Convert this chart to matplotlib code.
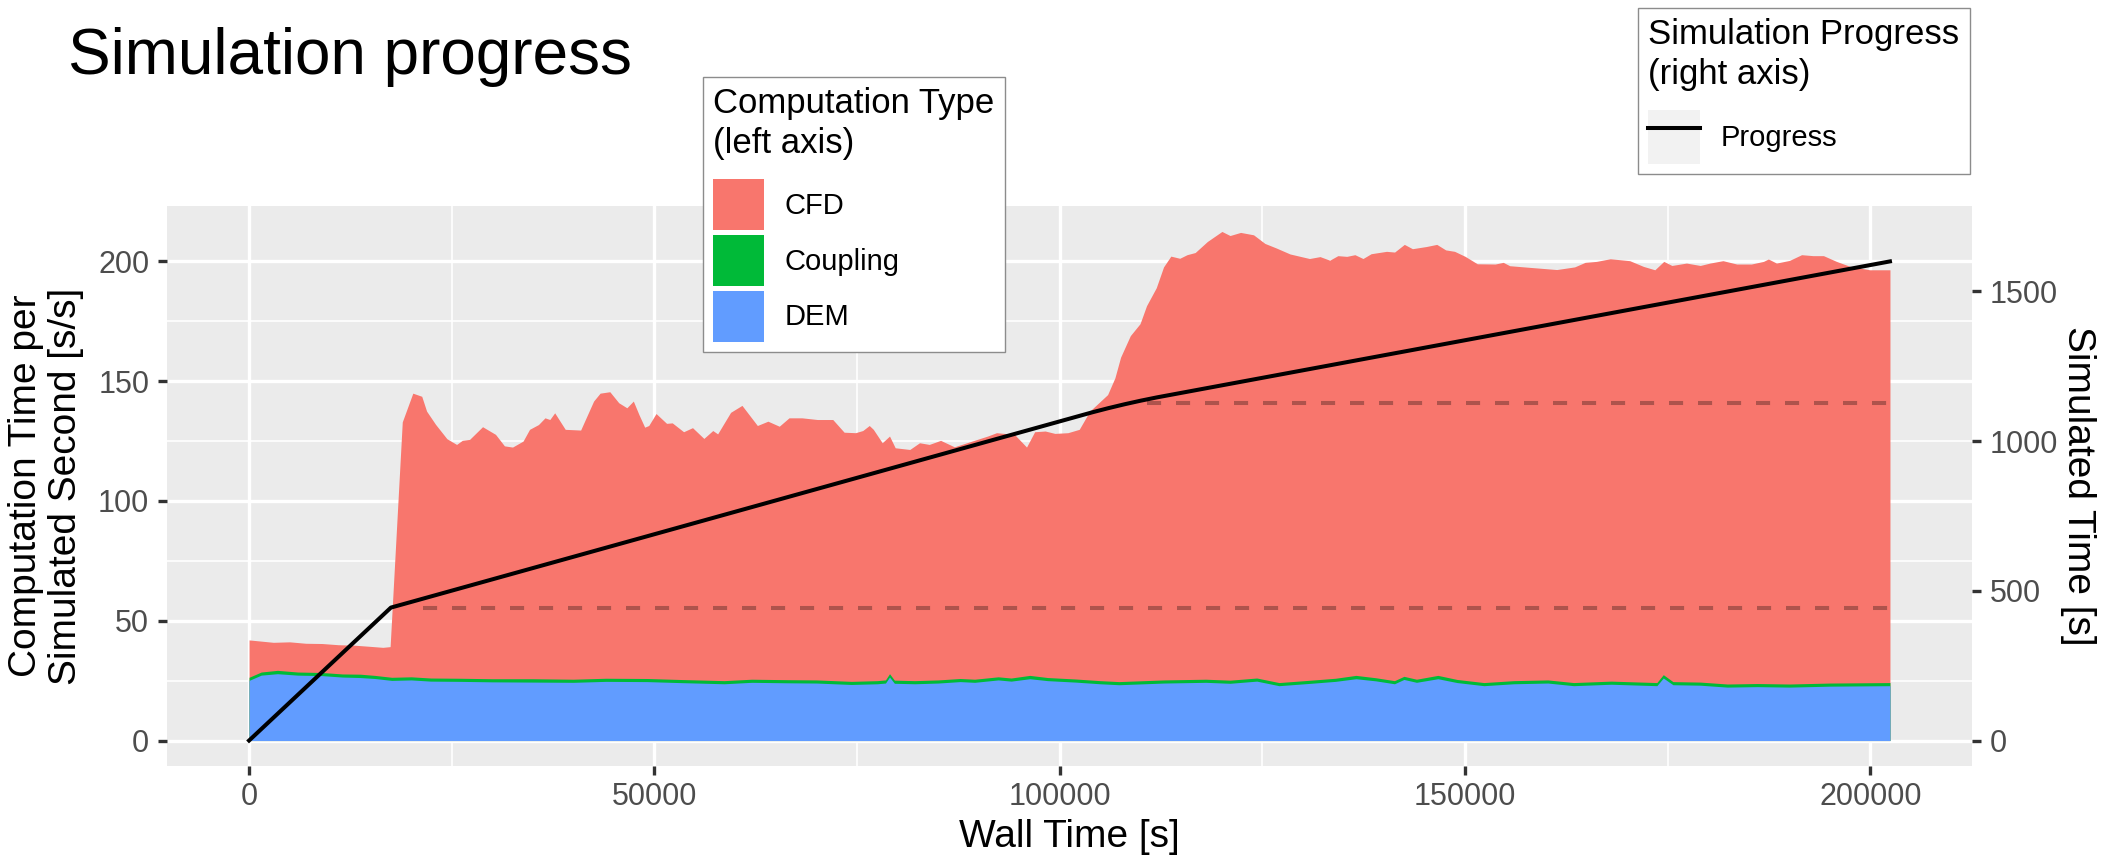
import numpy as np
import matplotlib
matplotlib.use("Agg")
import matplotlib.pyplot as plt
from matplotlib.patches import Patch
from matplotlib.lines import Line2D
from matplotlib.ticker import AutoMinorLocator

plt.rcParams['font.family'] = ['Liberation Sans', 'DejaVu Sans']

# top of the stacked areas = total computation time per simulated second [s/s]
wall_total = [0, 1500, 3000, 5000, 7000, 9000, 11000, 13000, 15000, 16500,
              17400, 18900, 20200, 21300, 21900, 23000, 24400, 25600, 26300, 27200,
              28800, 30400, 31500, 32500, 33800, 34600, 35700, 36500, 37100, 37700,
              39000, 40900, 42500, 43300, 44500, 45600, 46600, 47400, 48100, 48800,
              49300, 50200, 51500, 52200, 53600, 54700, 56100, 57200, 57800, 59400,
              60800, 62700, 64000, 65400, 66600, 68200, 70100, 72000, 73400, 74800,
              75700, 76500, 77000, 78100, 79000, 79700, 81500, 82700, 83900, 85300,
              87000, 88900, 91100, 92200, 94400, 95900, 96900, 98200, 99400, 101000,
              102400, 103700, 105900, 106800, 107500, 108700, 109900, 110700, 111900, 112800,
              113700, 114800, 115700, 116700, 118200, 120000, 121000, 122300, 123900, 125300,
              126700, 128400, 130800, 132100, 133300, 134300, 135400, 136400, 137400, 138400,
              140300, 141300, 142500, 143500, 145200, 146500, 147600, 148700, 150000, 151500,
              153700, 154700, 155500, 158000, 161300, 163500, 164800, 166200, 167900, 169100,
              170300, 172000, 173400, 174500, 175500, 177300, 179000, 180200, 181800, 183500,
              185300, 186800, 187400, 188400, 190000, 191500, 192900, 194200, 195800, 197500,
              199900, 202400]
total_time = [42.0, 41.5, 41.0, 41.2, 40.6, 40.5, 40.0, 39.8, 39.3, 38.9,
              39.2, 133.0, 145.0, 143.7, 137.5, 132.0, 126.0, 123.6, 125.3, 125.7,
              131.0, 127.8, 123.0, 122.5, 125.0, 129.9, 131.9, 134.7, 134.0, 136.8,
              129.9, 129.6, 141.7, 145.0, 145.6, 141.0, 138.9, 141.7, 136.0, 130.8,
              131.5, 136.5, 132.4, 132.6, 128.9, 130.6, 126.1, 129.4, 128.0, 137.0,
              139.9, 131.5, 133.3, 131.2, 134.7, 134.7, 134.0, 134.0, 128.7, 128.5,
              129.4, 131.5, 129.9, 124.3, 127.1, 122.2, 121.5, 124.3, 123.6, 125.3,
              122.6, 124.7, 127.1, 128.5, 127.8, 122.5, 128.9, 129.2, 128.2, 128.5,
              129.9, 137.5, 144.4, 151.4, 160.0, 169.0, 174.0, 181.5, 189.0, 197.7,
              202.2, 201.3, 202.8, 203.7, 208.3, 212.5, 210.8, 212.1, 211.1, 207.5,
              205.6, 203.1, 201.2, 202.0, 200.5, 202.4, 202.1, 202.8, 201.2, 203.2,
              204.2, 203.9, 207.1, 205.3, 206.2, 207.1, 204.8, 204.2, 202.1, 199.0,
              198.9, 199.6, 198.2, 197.5, 196.6, 197.7, 199.6, 200.0, 201.1, 200.7,
              200.3, 197.9, 196.5, 200.0, 198.3, 199.3, 198.3, 199.3, 200.3, 198.9,
              198.9, 200.0, 201.0, 199.3, 200.4, 202.8, 202.4, 202.4, 200.0, 197.9,
              196.5, 196.5]

# DEM and coupling parts [s/s]
wall_parts = [0, 1500, 3500, 6000, 9000, 11500, 13700, 15500, 17600, 20000,
              22400, 26000, 30000, 35000, 40000, 44000, 49100, 53000, 58600, 62000,
              66500, 70000, 74300, 77500, 78500, 79000, 79600, 82100, 85000, 87700,
              89500, 92400, 94000, 96300, 98500, 101900, 104960, 107300, 112850, 118000,
              121000, 124300, 127040, 131000, 134000, 136530, 139000, 141280, 142450, 144000,
              146640, 149000, 152320, 156000, 160200, 163380, 168000, 173650, 174440, 175630,
              179000, 182340, 186000, 190000, 195000, 202400]
dem_time = [25.1, 27.3, 27.9, 27.3, 27.1, 26.5, 26.3, 25.9, 25.1, 25.3,
            24.8, 24.7, 24.5, 24.4, 24.3, 24.7, 24.6, 24.2, 23.7, 24.3,
            24.1, 24.0, 23.4, 23.7, 24.0, 26.5, 23.9, 23.7, 24.0, 24.6,
            24.3, 25.3, 24.8, 25.8, 25.0, 24.4, 23.7, 23.3, 24.0, 24.3,
            23.9, 24.8, 22.9, 23.9, 24.7, 25.8, 24.9, 23.7, 25.5, 24.3,
            25.8, 24.2, 22.9, 23.7, 24.0, 22.9, 23.5, 22.9, 26.1, 23.3,
            23.1, 22.3, 22.5, 22.3, 22.7, 22.9]
coupling_time = [1.3, 1.3, 1.4, 1.3, 1.3, 1.3, 1.4, 1.3, 1.3, 1.3,
                 1.3, 1.3, 1.3, 1.4, 1.3, 1.3, 1.3, 1.3, 1.3, 1.3,
                 1.3, 1.3, 1.3, 1.3, 1.3, 1.4, 1.3, 1.3, 1.3, 1.3,
                 1.3, 1.3, 1.3, 1.4, 1.3, 1.3, 1.3, 1.3, 1.3, 1.3,
                 1.3, 1.3, 1.3, 1.3, 1.3, 1.4, 1.3, 1.3, 1.3, 1.3,
                 1.4, 1.3, 1.3, 1.3, 1.3, 1.3, 1.3, 1.3, 1.4, 1.3,
                 1.3, 1.3, 1.3, 1.3, 1.3, 1.3]

# simulation progress (right axis) [s simulated]
wall_progress = [0, 17500, 104000, 106000, 108000, 110000, 112000, 202400]
sim_progress = [0, 444, 1096, 1110, 1123, 1135, 1146, 1600]

# phase changes (dashed reference levels)
phase_wall = [21500, 110700]
phase_sim = [444, 1128]

x_ticks = [0, 50000, 100000, 150000, 200000]
y_ticks = [0, 50, 100, 150, 200]
y2_ticks = [0, 500, 1000, 1500]
sec_factor = 8   # right axis = left axis * 8

c_cfd, c_coup, c_dem = '#F8766D', '#00BA38', '#619CFF'
tick_col, lab_col = '#333333', '#4D4D4D'

fig = plt.figure(figsize=(21.04, 8.55), dpi=100)
ax = fig.add_axes([167/2104, 1-766/855, 1805/2104, 560/855])
ax.set_facecolor('#EBEBEB')
ax.set_axisbelow(True)

dem = np.array(dem_time)
coup = np.array(coupling_time)
ax.fill_between(wall_total, 0, total_time, color=c_cfd, lw=0)
ax.fill_between(wall_parts, 0, dem + coup, color=c_coup, lw=0)
ax.fill_between(wall_parts, 0, dem, color=c_dem, lw=0)

# ggplot-like 5% expansion
xmax = wall_total[-1]
ymax = max(total_time)
ax.set_xlim(-0.05*xmax, 1.05*xmax)
ax.set_ylim(-0.05*ymax, 1.05*ymax)
ax.set_xticks(x_ticks)
ax.set_yticks(y_ticks)
ax.xaxis.set_minor_locator(AutoMinorLocator(2))
ax.yaxis.set_minor_locator(AutoMinorLocator(2))
ax.grid(which='major', color='white', lw=2.4)
ax.grid(which='minor', color='white', lw=1.2)
for s in ax.spines.values():
    s.set_visible(False)
ax.tick_params(which='minor', length=0)
ax.tick_params(which='major', length=6.5, width=2.4, color=tick_col,
               labelsize=22, labelcolor=lab_col)
ax.tick_params(axis='x', pad=4.8)
ax.tick_params(axis='y', pad=6.3)

ax.set_xlabel('Wall Time [s]', fontsize=28)
ax.xaxis.set_label_coords(0.5, -0.095)
ax.set_ylabel('Computation Time per\nSimulated Second [s/s]', fontsize=28,
              multialignment='center', linespacing=1.15)
ax.yaxis.set_label_coords(-0.046, 0.5)

# right axis
ax2 = ax.twinx()
lo, hi = ax.get_ylim()
ax2.set_ylim(lo*sec_factor, hi*sec_factor)
ax2.set_yticks(y2_ticks)
for s in ax2.spines.values():
    s.set_visible(False)
ax2.tick_params(axis='y', length=6.5, width=2.4, color=tick_col,
                labelsize=22, labelcolor=lab_col, pad=6)
ax2.hlines(phase_sim, phase_wall, xmax, colors='#AE534C', lw=2.9,
           linestyles=(0, (3.5, 3.7)))
ax2.plot(wall_progress, sim_progress, color='black', lw=2.9)
ax2.set_ylabel('Simulated Time [s]', fontsize=28, rotation=270, va='bottom')
ax2.yaxis.set_label_coords(1.049, 0.5)

fig.text(68/2104, 1-74/855, 'Simulation progress', fontsize=46, va='baseline')

# legends
leg_kw = dict(loc='upper left', borderaxespad=0, prop={'size': 21},
              title_fontsize=25, alignment='left', labelspacing=0.17,
              handletextpad=0.69, borderpad=0.35, fancybox=False,
              edgecolor='#8C8C8C', framealpha=1)

leg1 = fig.legend(handles=[Patch(facecolor=c_cfd, lw=0), Patch(facecolor=c_coup, lw=0),
                           Patch(facecolor=c_dem, lw=0)],
                  labels=['CFD', 'Coupling', 'DEM'],
                  title='Computation Type\n(left axis)',
                  bbox_to_anchor=(703/2104, 1-77/855),
                  handlelength=1.75, handleheight=2.31, **leg_kw)

leg2 = fig.legend(handles=[(Patch(facecolor='#F2F2F2', lw=0),
                            Line2D([], [], color='black', lw=2.9))],
                  labels=['Progress'],
                  title='Simulation Progress\n(right axis)',
                  bbox_to_anchor=(1638/2104, 1-8/855),
                  handlelength=1.78, handleheight=2.47, **leg_kw)

for leg in (leg1, leg2):
    leg.get_frame().set_linewidth(1.0)
    leg.get_title().set_linespacing(1.25)
    leg._legend_box.sep = 14.0

fig.savefig('out.png', dpi=100)
